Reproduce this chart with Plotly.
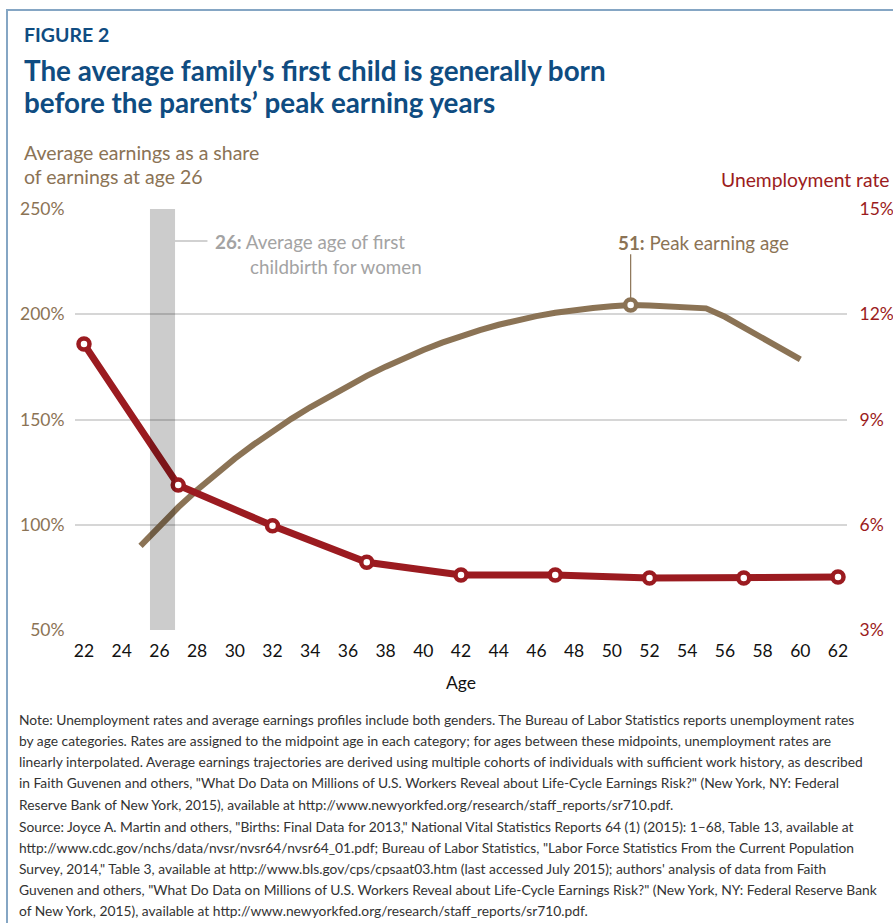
import plotly.graph_objects as go

# ---------------- data ----------------
unemp_ages = [22, 27, 32, 37, 42, 47, 52, 57, 62]
unemp_rate = [11.15, 7.13, 5.97, 4.93, 4.57, 4.57, 4.48, 4.48, 4.51]

earn_ages = list(range(25, 61))
earn_share = [90, 99.5, 108.3, 116.5, 124.2, 131.4, 138.1, 144.4, 150.3, 155.8,
              161.0, 166.0, 170.7, 175.1, 179.2, 183.0, 186.5, 189.7, 192.5, 195.0,
              197.2, 199.1, 200.7, 202.0, 203.0, 203.8, 204.4, 204.2, 203.9, 203.5,
              202.8, 198.8, 193.8, 188.7, 183.6, 178.6]

x_ticks = list(range(22, 63, 2))
left_ticks = [50, 100, 150, 200, 250]
right_ticks = [3, 6, 9, 12, 15]

first_birth_age = 26
band_range = [25.5, 26.83]

title_kicker = "FIGURE 2"
title_lines = ["The average family's first child is generally born",
               "before the parents’ peak earning years"]
note_lines = [
    "Note: Unemployment rates and average earnings profiles include both genders. The Bureau of Labor Statistics reports unemployment rates",
    "by age categories. Rates are assigned to the midpoint age in each category; for ages between these midpoints, unemployment rates are",
    "linearly interpolated. Average earnings trajectories are derived using multiple cohorts of individuals with sufficient work history, as described",
    "in Faith Guvenen and others, \"What Do Data on Millions of U.S. Workers Reveal about Life-Cycle Earnings Risk?\" (New York, NY: Federal",
    "Reserve Bank of New York, 2015), available at http://www.newyorkfed.org/research/staff_reports/sr710.pdf.",
]
source_lines = [
    "Source: Joyce A. Martin and others, \"Births: Final Data for 2013,\" National Vital Statistics Reports 64 (1) (2015): 1–68, Table 13, available at",
    "http://www.cdc.gov/nchs/data/nvsr/nvsr64/nvsr64_01.pdf; Bureau of Labor Statistics, \"Labor Force Statistics From the Current Population",
    "Survey, 2014,\" Table 3, available at http://www.bls.gov/cps/cpsaat03.htm (last accessed July 2015); authors' analysis of data from Faith",
    "Guvenen and others, \"What Do Data on Millions of U.S. Workers Reveal about Life-Cycle Earnings Risk?\" (New York, NY: Federal Reserve Bank",
    "of New York, 2015), available at http://www.newyorkfed.org/research/staff_reports/sr710.pdf.",
]

# ---------------- styling ----------------
W, H = 893, 923
L, R, T, B = 75, 46, 209, 293
PW, PH = W - L - R, H - T - B

RED = "#9b1b20"
BROWN = "#8b7355"
BLUE = "#0f4c81"
GREY_TXT = "#a3a3a3"
GRID = "#d6d6d6"
FRAME = "#85a6c4"
FONT = "Lato, Liberation Sans, Arial, sans-serif"


def pxx(px):
    return (px - L) / PW


def pyy(py):
    return (H - B - py) / PH


peak_i = max(range(len(earn_share)), key=lambda i: earn_share[i])
peak_age, peak_val = earn_ages[peak_i], earn_share[peak_i]

fig = go.Figure()

fig.add_trace(go.Scatter(
    x=earn_ages, y=earn_share, mode="lines",
    line=dict(color=BROWN, width=6), yaxis="y", hoverinfo="skip"))
fig.add_trace(go.Scatter(
    x=[peak_age], y=[peak_val], mode="markers",
    marker=dict(size=11, color="white", line=dict(color=BROWN, width=4.5)),
    yaxis="y", hoverinfo="skip"))
fig.add_trace(go.Scatter(
    x=unemp_ages, y=unemp_rate, mode="lines+markers",
    line=dict(color=RED, width=7),
    marker=dict(size=11, color="white", line=dict(color=RED, width=4.5)),
    yaxis="y2", hoverinfo="skip"))

shapes = [
    dict(type="rect", xref="x", yref="paper", x0=band_range[0], x1=band_range[1],
         y0=0, y1=1, fillcolor="rgba(0,0,0,0.2)", line=dict(width=0), layer="above"),
    dict(type="line", xref="x", yref="paper", x0=band_range[1], x1=28.55,
         y0=pyy(241), y1=pyy(241), line=dict(color=GREY_TXT, width=1.2)),
    dict(type="line", xref="x", yref="y", x0=peak_age, x1=peak_age,
         y0=peak_val, y1=228.5, line=dict(color=BROWN, width=1.2), layer="below"),
    dict(type="line", xref="paper", yref="paper", x0=pxx(6), x1=pxx(893),
         y0=pyy(10), y1=pyy(10), line=dict(color=FRAME, width=2)),
    dict(type="line", xref="paper", yref="paper", x0=pxx(7), x1=pxx(7),
         y0=pyy(10), y1=pyy(923), line=dict(color=FRAME, width=2)),
]

ann = []


def text(px, py, s, size, color, xanchor="left"):
    ann.append(dict(xref="paper", yref="paper", x=pxx(px), y=pyy(py), text=s,
                    showarrow=False, xanchor=xanchor, yanchor="middle",
                    font=dict(size=size, color=color, family=FONT)))


text(22, 35, "<b>" + title_kicker + "</b>", 19.5, BLUE)
text(22, 70, "<b>" + title_lines[0] + "</b>", 27.8, BLUE)
text(22, 102, "<b>" + title_lines[1] + "</b>", 27.8, BLUE)

text(22, 152, "Average earnings as a share", 19.5, BROWN)
text(22, 176, "of earnings at age 26", 19.5, BROWN)
text(892, 179, "Unemployment rate", 19.3, RED, xanchor="right")

text(213, 241, "<b>26:</b> Average age of first", 18.8, GREY_TXT)
text(248, 266, "childbirth for women", 18.8, GREY_TXT)
text(616, 242, "<b>51:</b> Peak earning age", 18.8, BROWN)

text(461, 682, "Age", 17.5, "#111111", xanchor="center")

for i, s in enumerate(note_lines):
    text(17, 719 + i * 21.3, s, 13.8, "#333333")
for i, s in enumerate(source_lines):
    text(17, 826 + i * 21, s, 13.8, "#333333")

fig.update_layout(
    width=W, height=H,
    margin=dict(l=L, r=R, t=T, b=B, autoexpand=False),
    paper_bgcolor="white", plot_bgcolor="white",
    showlegend=False, hovermode=False,
    shapes=shapes, annotations=ann,
    font=dict(family=FONT, size=17),
    xaxis=dict(range=[21.523, 62.477], tickvals=x_ticks, showgrid=False,
               zeroline=False, showline=False, ticks="outside", ticklen=5,
               tickcolor="rgba(0,0,0,0)", tickfont=dict(size=17.5, color="#111111")),
    yaxis=dict(range=[50, 250], tickvals=left_ticks,
               ticktext=[f"{v}%" for v in left_ticks],
               showgrid=True, gridcolor=GRID, gridwidth=1.5, zeroline=False,
               ticks="outside", ticklen=6, tickcolor="rgba(0,0,0,0)",
               tickfont=dict(size=17.5, color=BROWN)),
    yaxis2=dict(range=[3, 15], tickvals=right_ticks,
                ticktext=[f"{v}%" for v in right_ticks],
                overlaying="y", side="right", showgrid=False, zeroline=False,
                ticks="outside", ticklen=8, tickcolor="rgba(0,0,0,0)",
                tickfont=dict(size=17.5, color=RED)),
)

fig.write_html("out.html", config={"displayModeBar": False},
               post_script="document.body.style.margin='0';")
